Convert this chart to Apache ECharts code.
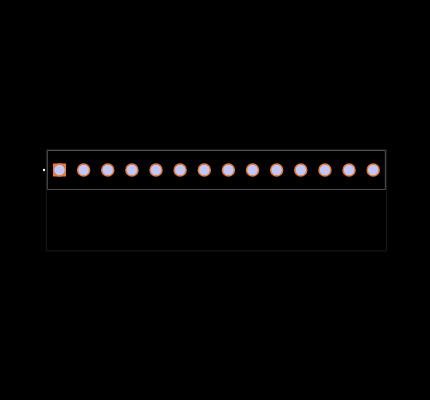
<!DOCTYPE html>
<html><head><meta charset="utf-8">
<style>html,body{margin:0;padding:0;background:#000}#c{width:430px;height:400px}</style>
<script src="https://cdn.jsdelivr.net/npm/echarts@6/dist/echarts.min.js"></script>
</head><body><div id="c"></div>
<script>
// positions in millimetres, pin 1 at the origin
const pinX = [0,2.54,5.08,7.62,10.16,12.7,15.24,17.78,20.32,22.86,25.4,27.94,30.48,33.02];
const pinY = [0,0,0,0,0,0,0,0,0,0,0,0,0,0];
const outlineX = [-1.28,34.3,34.3,-1.28,-1.28];
const outlineY = [2.05,2.05,-2.05,-2.05,2.05];
const courtX = [-1.39,34.42,34.42,-1.39,-1.39];
const courtY = [2.16,2.16,-8.52,-8.52,2.16];
const markerPoint = [[-1.63,0]];
const xRange = [-6.263,39];
const yRange = [-24.21,17.89];
const zip=(a,b)=>a.map((v,i)=>[v,b[i]]);
const pinStyle={color:'#c3c6f9',borderColor:'#e07a35',borderWidth:1.5,opacity:1};
const chart=echarts.init(document.getElementById('c'),null,{renderer:'canvas'});
chart.setOption({
 animation:false,backgroundColor:'#000',
 grid:{left:0,right:0,top:0,bottom:0},
 xAxis:{type:'value',min:xRange[0],max:xRange[1],show:false},
 yAxis:{type:'value',min:yRange[0],max:yRange[1],show:false},
 series:[
  {type:'line',data:zip(courtX,courtY),symbol:'none',lineStyle:{color:'#1a1a1a',width:1},z:1},
  {type:'line',data:zip(outlineX,outlineY),symbol:'none',lineStyle:{color:'#505050',width:1},z:2},
  {type:'scatter',data:zip(pinX,pinY).slice(0,1),symbol:'rect',symbolSize:13,itemStyle:{color:'#ea7d33',opacity:1},z:3},
  {type:'scatter',data:zip(pinX,pinY),symbol:'circle',symbolSize:12,itemStyle:pinStyle,z:4},
  {type:'scatter',data:markerPoint,symbol:'circle',symbolSize:2.4,itemStyle:{color:'#fff',opacity:1},z:4}
 ]
});
</script></body></html>
